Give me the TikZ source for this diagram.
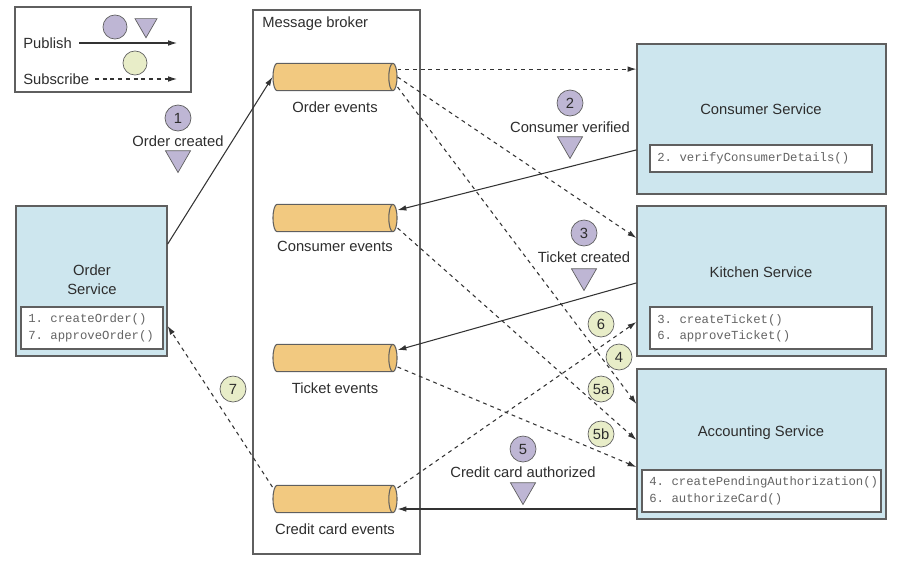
\documentclass[tikz,border=0pt]{standalone}
\usepackage{fontspec}
\setmainfont{Liberation Sans}
\setmonofont{Liberation Mono}
\usepackage{tikz}
\usetikzlibrary{arrows.meta,positioning,shapes.geometric,fit,calc}

\definecolor{svcblue}{RGB}{205,230,238}
\definecolor{chanorange}{RGB}{242,201,128}
\definecolor{chanend}{RGB}{238,194,116}
\definecolor{pubpurple}{RGB}{190,182,212}
\definecolor{subgreen}{RGB}{232,237,200}
\definecolor{edgegray}{RGB}{95,95,95}
\definecolor{txtgray}{RGB}{45,45,45}
\definecolor{codegray}{RGB}{100,100,100}

\begin{document}
\begin{tikzpicture}[x=0.02cm, y=-0.02cm,
  every node/.style={font=\fontsize{8.4}{10.8}\selectfont, text=txtgray},
  service/.style={draw=edgegray, fill=svcblue, line width=0.7pt, inner sep=0pt},
  codebox/.style={draw=edgegray, fill=white, line width=0.7pt, inner sep=0pt},
  codetext/.style={font=\ttfamily\fontsize{7}{9.4}\selectfont, text=codegray, align=left, anchor=west, inner sep=0pt},
  channel/.style={cylinder, anchor=shape center, draw=edgegray, line width=0.6pt, minimum height=70.6pt, inner xsep=0pt, inner ysep=7.8pt, shape aspect=0.3,
    cylinder uses custom fill, cylinder body fill=chanorange, cylinder end fill=chanend},
  pubdot/.style={circle, draw=edgegray, fill=pubpurple, minimum size=14.8pt, inner sep=0pt},
  subdot/.style={circle, draw=edgegray, fill=subgreen, minimum size=14.8pt, inner sep=0pt},
  evtri/.style={regular polygon, regular polygon sides=3, shape border rotate=180, draw=edgegray, fill=pubpurple, minimum size=16.5pt, inner sep=0pt},
  publish/.style={-{Latex[length=5pt,width=3.2pt]}, line width=0.6pt, black!80},
  subscribe/.style={publish, dash pattern=on 2.2pt off 2.2pt},
]
\useasboundingbox (0,0) rectangle (911,565);

% Key
\node[draw=edgegray, line width=0.6pt, inner sep=0pt, fit={(15,7) (191,92)}] (key) {};
\node[anchor=west, inner sep=0pt] (pubtxt) at (23,43) {Publish};
\node[anchor=west, inner sep=0pt] (subtxt) at (23,79) {Subscribe};
\node[pubdot, minimum size=13.7pt] (keypub) at (115,27) {};
\node[evtri, minimum size=14.5pt] (keytri) at (146,25) {};
\node[subdot, minimum size=13.7pt] (keysub) at (135,63) {};
\coordinate (pubstart) at (79,43);
\coordinate (pubend) at (177,43);
\coordinate (substart) at (95,79);
\coordinate (subend) at (177,79);
\draw[publish] (pubstart) -- (pubend);
\draw[subscribe] (substart) -- (subend);

% Message broker
\node[draw=edgegray, line width=0.7pt, inner sep=0pt, fit={(253,10) (420,554)}] (broker) {};
\node[anchor=west, inner sep=0pt] (brokertxt) at (262,24) {Message broker};

\node[channel] (oe) at (335,77) {};
\node (oetxt) at (335,107) {Order events};
\node[channel] (ce) at (335,218) {};
\node (cetxt) at (335,246) {Consumer events};
\node[channel] (te) at (335,358) {};
\node (tetxt) at (335,388) {Ticket events};
\node[channel] (cc) at (335,499) {};
\node (cctxt) at (335,529) {Credit card events};

% Services
\node[service, fit={(16,206) (167,356)}] (os) {};
\node[align=center] (ostxt) at (92,280) {Order\\Service};
\node[codebox, fit={(21,307) (163,349)}] (oscode) {};
\node[codetext] (oscodetxt) at (28,328) {1. createOrder()\\7. approveOrder()};

\node[service, fit={(637,44) (886,194)}] (cs) {};
\node (cstxt) at (761,109) {Consumer Service};
\node[codebox, fit={(650,145) (872,172)}] (cscode) {};
\node[codetext] (cscodetxt) at (657,158.5) {2. verifyConsumerDetails()};

\node[service, fit={(637,206) (886,356)}] (ks) {};
\node (kstxt) at (761,272) {Kitchen Service};
\node[codebox, fit={(650,307) (872,349)}] (kscode) {};
\node[codetext] (kscodetxt) at (657,328.5) {3. createTicket()\\6. approveTicket()};

\node[service, fit={(637,369) (886,519)}] (as) {};
\node (astxt) at (761,433) {Accounting Service};
\node[codebox, fit={(642,470) (881,512)}] (ascode) {};
\node[codetext] (ascodetxt) at (649,491) {4. createPendingAuthorization()\\6. authorizeCard()};

% Publish
\draw[publish] ([yshift=21pt]os.east) -- (oe.west);
\draw[publish] ([yshift=-17.6pt]cs.west) -- ([yshift=4.5pt]ce.east);
\draw[publish] ([yshift=-1.1pt]ks.west) -- ([yshift=4.5pt]te.east);
\draw[publish] ([yshift=-37pt]as.west) -- ([yshift=-37pt]as.west -| cc.east);

% Subscribe
\draw[subscribe] ([yshift=4.5pt]oe.east) -- ([yshift=4.5pt]oe.east -| cs.west);
\draw[subscribe] (oe.east) -- ([yshift=24.5pt]ks.west);
\draw[subscribe] ([yshift=-5.7pt]oe.east) -- ([yshift=22.8pt]as.west);
\draw[subscribe] ([yshift=-5.7pt]ce.east) -- ([yshift=2.3pt]as.west);
\draw[subscribe] ([yshift=-5.1pt]te.east) -- ([yshift=-13.1pt]as.west);
\draw[subscribe] ([yshift=6.3pt]cc.east) -- ([yshift=-23.3pt]ks.west);
\draw[subscribe] ([yshift=6.8pt]cc.west) -- ([yshift=-25.6pt]os.east);

% Events
\node[pubdot] (e1) at (178,118) {1};
\node (e1txt) at (178,141) {Order created};
\node[evtri] (e1tri) at (178,158) {};
\node[pubdot] (e2) at (570,103) {2};
\node (e2txt) at (570,127) {Consumer verified};
\node[evtri] (e2tri) at (570,144) {};
\node[pubdot] (e3) at (584,233) {3};
\node (e3txt) at (584,257) {Ticket created};
\node[evtri] (e3tri) at (584,276) {};
\node[pubdot] (e5) at (523,449) {5};
\node (e5txt) at (523,472) {Credit card authorized};
\node[evtri] (e5tri) at (523,490) {};

\node[subdot] (s6) at (601,324) {6};
\node[subdot] (s4) at (619,357) {4};
\node[subdot] (s5a) at (601,389) {5a};
\node[subdot] (s5b) at (601,434) {5b};
\node[subdot] (s7) at (233,389) {7};

\end{tikzpicture}
\end{document}
